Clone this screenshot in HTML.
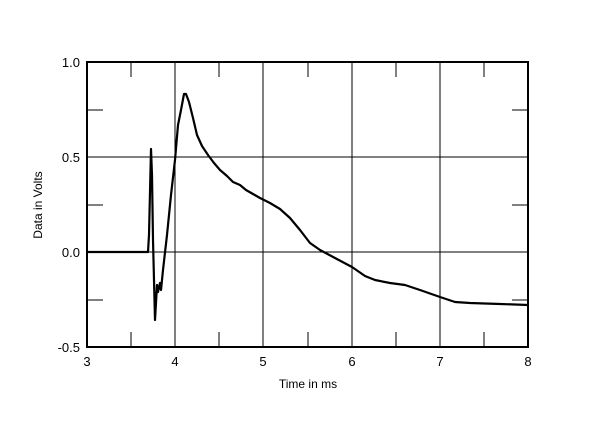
<!DOCTYPE html>
<html><head><style>body{margin:0;background:#fff}</style></head><body>
<svg width="600" height="417" xmlns="http://www.w3.org/2000/svg" font-family="Liberation Sans, Arial, sans-serif" font-size="13">
<g stroke="#000" stroke-width="1">
<line x1="175" y1="62" x2="175" y2="347"/><line x1="263" y1="62" x2="263" y2="347"/><line x1="352" y1="62" x2="352" y2="347"/><line x1="440" y1="62" x2="440" y2="347"/>
<line x1="87" y1="157" x2="528" y2="157"/><line x1="87" y1="252" x2="528" y2="252"/>
<line x1="131" y1="62" x2="131" y2="77"/><line x1="219" y1="62" x2="219" y2="77"/><line x1="308" y1="62" x2="308" y2="77"/><line x1="396" y1="62" x2="396" y2="77"/><line x1="484" y1="62" x2="484" y2="77"/>
<line x1="131" y1="347" x2="131" y2="332"/><line x1="219" y1="347" x2="219" y2="332"/><line x1="308" y1="347" x2="308" y2="332"/><line x1="396" y1="347" x2="396" y2="332"/><line x1="484" y1="347" x2="484" y2="332"/>
<line x1="87" y1="110" x2="103" y2="110"/><line x1="87" y1="205" x2="103" y2="205"/><line x1="87" y1="300" x2="103" y2="300"/>
<line x1="528" y1="110" x2="512" y2="110"/><line x1="528" y1="205" x2="512" y2="205"/><line x1="528" y1="300" x2="512" y2="300"/>
</g>
<rect x="87" y="62" width="441" height="285" fill="none" stroke="#000" stroke-width="2"/>
<polyline fill="none" stroke="#000" stroke-width="2.2" stroke-linejoin="round" points="87,252 148,252 149,235 151,149 152,175 153,240 155,320 157,285 158,292 160,283 161,290 163,270 167,235 171,195 175,160 178,125 181,110 184,94 186,94 189,102 193,118 197,135 202,146 208,155 214,163 220,170 227,176 233,182 240,185 246,190 253,194 260,198 270,203 280,209 290,218 300,230 310,243 320,250 335,258 352,267 365,276 375,280 390,283 405,285 420,290 440,297 455,302 470,303 500,304 528,305"/>
<g text-anchor="end"><text x="80" y="67">1.0</text><text x="80" y="162">0.5</text><text x="80" y="257">0.0</text><text x="80" y="352">-0.5</text></g>
<g text-anchor="middle"><text x="87" y="366">3</text><text x="175" y="366">4</text><text x="263" y="366">5</text><text x="352" y="366">6</text><text x="440" y="366">7</text><text x="528" y="366">8</text>
<text x="308" y="388" font-size="12">Time in ms</text>
<text transform="translate(42,205) rotate(-90)" font-size="12">Data in Volts</text></g>
</svg>
</body></html>
